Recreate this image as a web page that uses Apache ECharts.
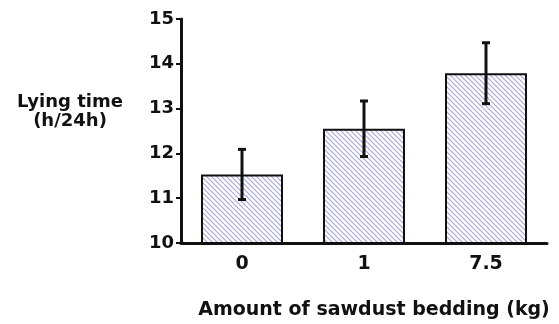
<!DOCTYPE html>
<html><head><meta charset="utf-8">
<script src="https://cdn.jsdelivr.net/npm/echarts@6/dist/echarts.min.js"></script>
<style>html,body{margin:0;padding:0;background:#fff}#c{width:559px;height:324px}</style>
</head><body><div id="c"></div>
<script>
const categories = ['0', '1', '7.5'];
const meanValues = [11.53, 12.55, 13.79];
const errorValues = [0.56, 0.62, 0.68];
const yTicks = [10, 11, 12, 13, 14, 15];

function hatch() {
  const c = document.createElement('canvas');
  c.width = 5; c.height = 5;
  const g = c.getContext('2d');
  g.fillStyle = '#ffffff'; g.fillRect(0, 0, 5, 5);
  g.strokeStyle = '#a9a9d8'; g.lineWidth = 1.2;
  g.beginPath();
  g.moveTo(-1, -1); g.lineTo(6, 6);
  g.moveTo(-1, 4); g.lineTo(1, 6);
  g.moveTo(4, -1); g.lineTo(6, 1);
  g.stroke();
  return c;
}

const font = 'DejaVu Sans';
const chart = echarts.init(document.getElementById('c'), null, {renderer: 'canvas'});
chart.setOption({
  animation: false,
  grid: {left: 181, right: 12, top: 19, bottom: 81, containLabel: false, outerBoundsMode: 'none'},
  xAxis: {
    type: 'category', data: categories,
    axisLine: {lineStyle: {color: '#111', width: 3}},
    axisTick: {alignWithLabel: true, length: 5, lineStyle: {color: '#111', width: 2}},
    axisLabel: {color: '#111', fontFamily: font, fontWeight: 'bold', fontSize: 19, margin: 12},
    name: 'Amount of sawdust bedding (kg)', nameLocation: 'middle', nameGap: 58,
    nameTextStyle: {color: '#111', fontFamily: font, fontWeight: 'bold', fontSize: 19, padding: [0, 0, 0, 20]}
  },
  yAxis: {
    type: 'value', min: yTicks[0], max: yTicks[yTicks.length - 1], interval: 1,
    splitLine: {show: false},
    axisLine: {show: true, lineStyle: {color: '#111', width: 3}},
    axisTick: {show: true, length: 5, lineStyle: {color: '#111', width: 2}},
    axisLabel: {color: '#111', fontFamily: font, fontWeight: 'bold', fontSize: 18, margin: 7},
    name: 'Lying time\n(h/24h)', nameLocation: 'middle', nameGap: 111, nameRotate: 0,
    nameTextStyle: {color: '#111', fontFamily: font, fontWeight: 'bold', fontSize: 18, lineHeight: 19, align: 'center', verticalAlign: 'bottom'}
  },
  series: [
    {
      type: 'bar', data: meanValues, barWidth: 82,
      itemStyle: {color: {image: hatch(), repetition: 'repeat'}, borderColor: '#111', borderWidth: 2}
    },
    {
      type: 'custom',
      data: meanValues.map((v, i) => [i, v - errorValues[i], v + errorValues[i]]),
      renderItem: function (params, api) {
        const lo = api.coord([api.value(0), api.value(1)]);
        const hi = api.coord([api.value(0), api.value(2)]);
        const hw = 4;
        return {type: 'group', children: [
          {type: 'line', shape: {x1: hi[0], y1: hi[1], x2: lo[0], y2: lo[1]}, style: {stroke: '#111', lineWidth: 3}},
          {type: 'line', shape: {x1: hi[0] - hw, y1: hi[1], x2: hi[0] + hw, y2: hi[1]}, style: {stroke: '#111', lineWidth: 3}},
          {type: 'line', shape: {x1: lo[0] - hw, y1: lo[1], x2: lo[0] + hw, y2: lo[1]}, style: {stroke: '#111', lineWidth: 3}}
        ]};
      },
      z: 10
    }
  ]
});
</script></body></html>
